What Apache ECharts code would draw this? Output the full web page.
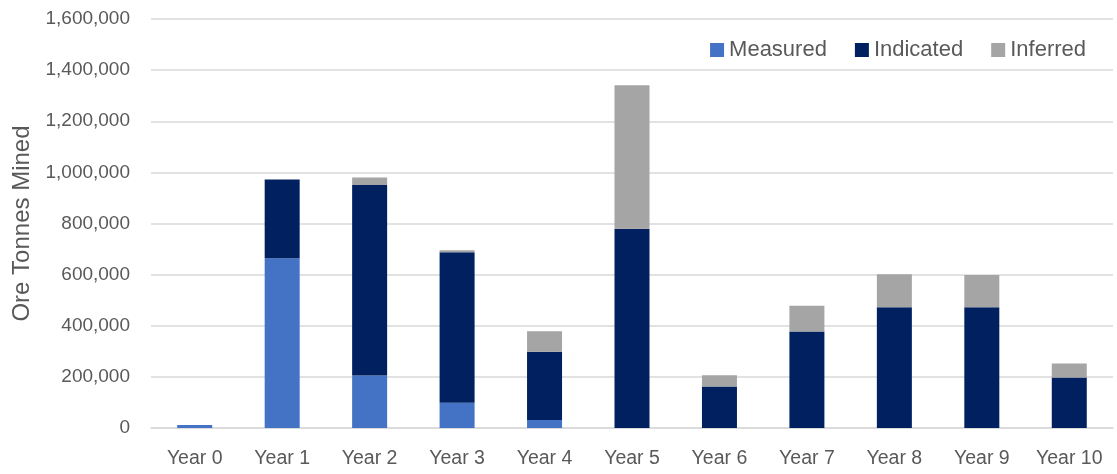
<!DOCTYPE html>
<html>
<head>
<meta charset="utf-8">
<script src="https://cdn.jsdelivr.net/npm/echarts@6/dist/echarts.min.js"></script>
<style>
  html, body { margin: 0; padding: 0; background: #ffffff; }
  #chart { width: 1117px; height: 474px; }
</style>
</head>
<body>
<div id="chart"></div>
<script>
// Ore tonnes mined per year, split by resource classification
const categories = ['Year 0', 'Year 1', 'Year 2', 'Year 3', 'Year 4', 'Year 5',
                    'Year 6', 'Year 7', 'Year 8', 'Year 9', 'Year 10'];
const measured  = [12000, 664000, 205000, 99000, 31000, 0, 0, 0, 0, 0, 0];
const indicated = [0, 308500, 746000, 588500, 267000, 779000, 162000, 377600, 472000, 472000, 197300];
const inferred  = [0, 0, 29000, 7500, 80000, 562000, 44000, 100800, 129000, 126500, 55000];
const yTicks = { min: 0, max: 1600000, interval: 200000 };

const fontFamily = 'Liberation Sans, Arial, sans-serif';
const textColor = '#595959';

const chart = echarts.init(document.getElementById('chart'), null, { renderer: 'canvas' });

function barSeries(name, data, color) {
  return {
    name: name,
    type: 'bar',
    stack: 'total',
    data: data,
    barWidth: 35,
    itemStyle: { color: color },
    emphasis: { disabled: true }
  };
}

chart.setOption({
  animation: false,
  backgroundColor: '#ffffff',
  grid: { left: 151, right: 4, top: 19, bottom: 46, containLabel: false },
  legend: {
    right: 26,
    top: 34,
    itemWidth: 14,
    itemHeight: 14,
    itemGap: 28,
    icon: 'rect',
    textStyle: { color: textColor, fontSize: 22, fontFamily: fontFamily, padding: [0, 0, 0, 0] },
    data: ['Measured', 'Indicated', 'Inferred']
  },
  xAxis: {
    type: 'category',
    data: categories,
    axisLine: { show: true, lineStyle: { color: '#d9d9d9', width: 1.5 } },
    axisTick: { show: false },
    axisLabel: {
      interval: 0,
      hideOverlap: false,
      color: textColor,
      fontSize: 19.5,
      fontFamily: fontFamily,
      margin: 21
    }
  },
  yAxis: {
    type: 'value',
    min: yTicks.min,
    max: yTicks.max,
    interval: yTicks.interval,
    name: 'Ore Tonnes Mined',
    nameLocation: 'middle',
    nameGap: 117,
    nameRotate: 90,
    nameTextStyle: { color: textColor, fontSize: 24, fontFamily: fontFamily },
    axisLine: { show: false },
    axisTick: { show: false },
    splitLine: { lineStyle: { color: '#d9d9d9', width: 1.5 } },
    axisLabel: {
      color: textColor,
      fontSize: 19,
      fontFamily: fontFamily,
      margin: 21,
      formatter: v => v.toLocaleString('en-US')
    }
  },
  series: [
    barSeries('Measured', measured, '#4472C4'),
    barSeries('Indicated', indicated, '#002060'),
    barSeries('Inferred', inferred, '#A5A5A5')
  ]
});
</script>
</body>
</html>
